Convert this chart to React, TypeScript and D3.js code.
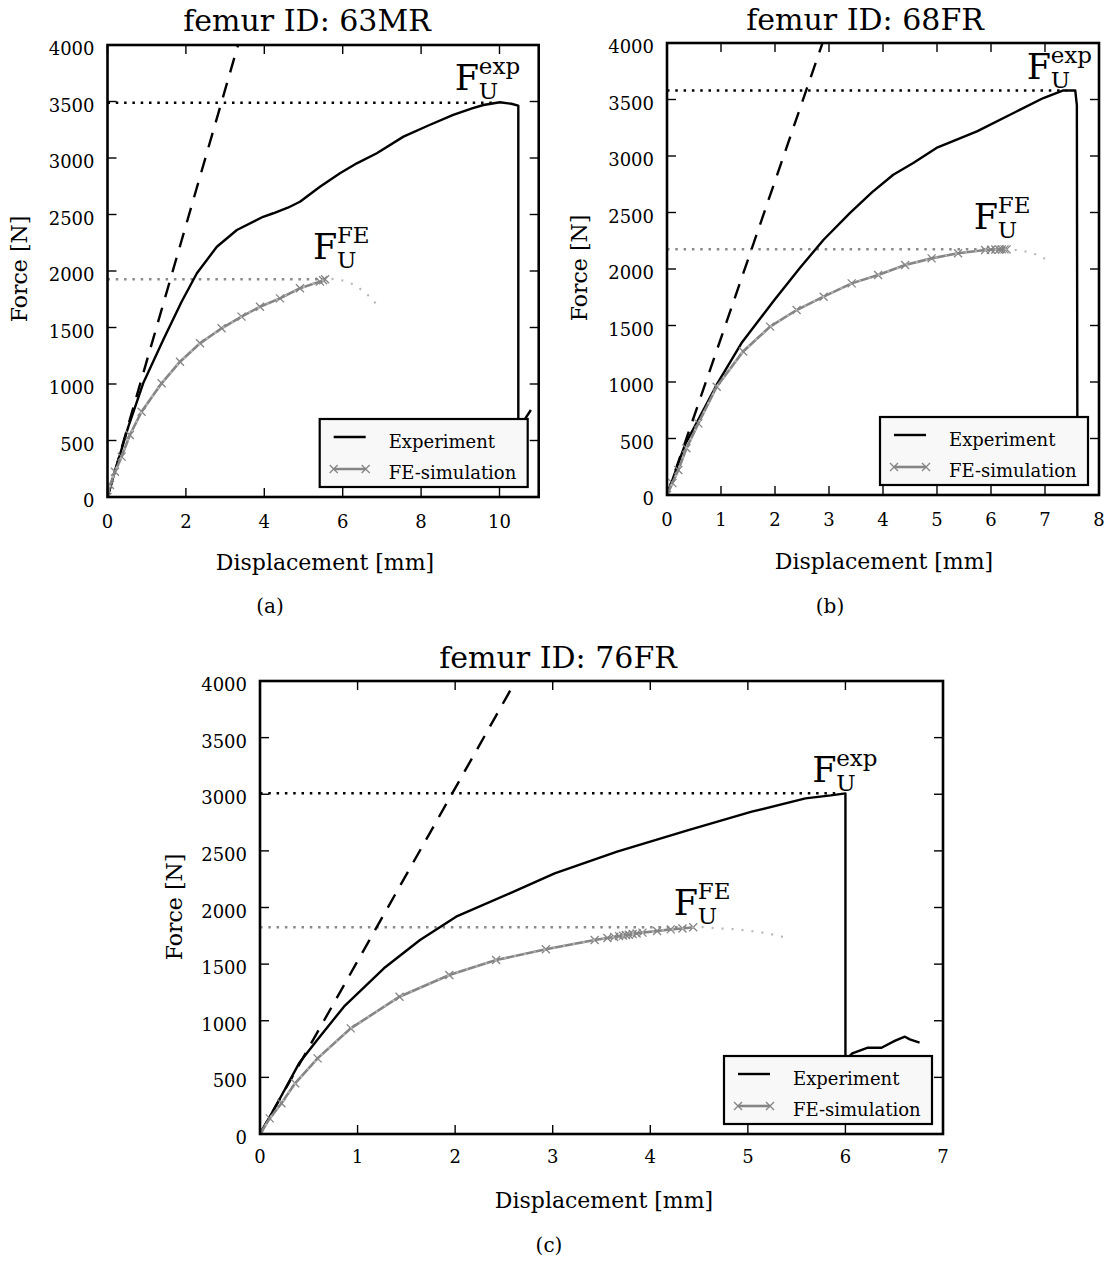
import React from 'react';
import * as d3 from 'd3';

const FONT = 'DejaVu Serif';

// shared y ticks
const yTicks = [0, 500, 1000, 1500, 2000, 2500, 3000, 3500, 4000];

// ---------- Panel (a) femur 63MR ----------
const xTicksA = [0, 2, 4, 6, 8, 10];
const expA_x = [0, 0.15, 0.53, 0.91, 1.42, 1.89, 2.28, 2.79, 3.3, 3.97, 4.23, 4.6, 4.91, 5.42, 5.93, 6.36, 6.87, 7.55, 8.2, 8.82, 9.3, 9.59, 10.01, 10.3, 10.48, 10.48, 10.8];
const expA_y = [0, 180, 620, 1006, 1389, 1728, 1980, 2215, 2363, 2480, 2511, 2560, 2613, 2746, 2865, 2953, 3042, 3189, 3290, 3381, 3440, 3469, 3493, 3480, 3463, 600, 770];
const dashA_x = [0, 3.33];
const dashA_y = [0, 4000];
const feA_x = [0, 0.064, 0.19, 0.36, 0.57, 0.87, 1.38, 1.85, 2.36, 2.91, 3.42, 3.89, 4.40, 4.91, 5.42, 5.50, 5.55];
const feA_y = [0, 106, 224, 357, 549, 755, 1006, 1197, 1360, 1493, 1596, 1684, 1758, 1847, 1906, 1918, 1927];
const feExtA_x = [5.55, 5.8, 6.02, 6.27, 6.51, 6.71, 6.89];
const feExtA_y = [1927, 1930, 1914, 1882, 1826, 1767, 1693];
const peakA = { exp: 3490, expX: 9.95, fe: 1927, feX: 5.7 };

// ---------- Panel (b) femur 68FR ----------
const xTicksB = [0, 1, 2, 3, 4, 5, 6, 7, 8];
const expB_x = [0, 0.33, 0.61, 0.92, 1.38, 1.97, 2.46, 2.90, 3.39, 3.8, 4.19, 4.56, 4.99, 5.74, 6.54, 6.97, 7.34, 7.56, 7.59, 7.6];
const expB_y = [0, 442, 694, 976, 1345, 1714, 2009, 2259, 2496, 2680, 2834, 2938, 3071, 3218, 3410, 3513, 3580, 3580, 3450, 300];
const dashB_x = [0, 2.88];
const dashB_y = [0, 4000];
const feB_x = [0, 0.1, 0.21, 0.36, 0.58, 0.92, 1.41, 1.91, 2.40, 2.90, 3.42, 3.91, 4.41, 4.90, 5.39, 5.89, 6.0, 6.08, 6.15, 6.2, 6.25, 6.29];
const feB_y = [0, 105, 221, 413, 634, 958, 1270, 1490, 1637, 1755, 1873, 1947, 2035, 2094, 2139, 2168, 2170, 2172, 2173, 2174, 2174, 2174];
const feExtB_x = [6.29, 6.45, 6.63, 6.81, 7.0];
const feExtB_y = [2174, 2168, 2156, 2133, 2090];
const peakB = { exp: 3580, expX: 7.4, fe: 2174, feX: 6.3 };

// ---------- Panel (c) femur 76FR ----------
const xTicksC = [0, 1, 2, 3, 4, 5, 6, 7];
const expC_x = [0, 0.196, 0.40, 0.586, 0.86, 1.27, 1.64, 2.01, 2.56, 3.02, 3.66, 4.39, 5.04, 5.59, 5.85, 6.0, 6.0, 6.07, 6.23, 6.37, 6.51, 6.61, 6.66, 6.76];
const expC_y = [0, 300, 624, 830, 1124, 1463, 1713, 1919, 2125, 2302, 2493, 2684, 2846, 2964, 2990, 3008, 650, 712, 762, 762, 824, 859, 836, 806];
const dashC_x = [0, 2.62];
const dashC_y = [0, 4000];
const feC_x = [0, 0.10, 0.22, 0.36, 0.59, 0.93, 1.43, 1.94, 2.42, 2.93, 3.43, 3.56, 3.63, 3.68, 3.72, 3.75, 3.78, 3.82, 3.86, 3.92, 4.07, 4.21, 4.33, 4.44];
const feC_y = [0, 138, 271, 448, 668, 933, 1212, 1404, 1536, 1631, 1713, 1730, 1740, 1747, 1752, 1757, 1760, 1766, 1771, 1778, 1793, 1807, 1815, 1825];
const feExtC_x = [4.44, 4.54, 4.68, 4.88, 5.10, 5.23, 5.33, 5.43];
const feExtC_y = [1825, 1827, 1816, 1807, 1786, 1766, 1748, 1719];
const peakC = { exp: 3008, expX: 5.9, fe: 1825, feX: 4.5 };

const zip = (a: number[], b: number[]): [number, number][] => a.map((v, i) => [v, b[i]]);

type Cfg = {
  id: string;
  left: number; right: number; top: number; bottom: number;
  xMax: number; xTicks: number[];
  title: string; titleX: number; titleY: number;
  xlabelX: number; xlabelY: number; xtickY: number;
  ylabelX: number; ylabelY: number;
  panel: string; panelX: number; panelY: number;
  annExp: [number, number]; annFE: [number, number];
};

type Data = {
  expX: number[]; expY: number[];
  dashX: number[]; dashY: number[];
  feX: number[]; feY: number[];
  extX: number[]; extY: number[];
  peak: { exp: number; expX: number; fe: number; feX: number };
};

function Ann({ x, y, sup }: { x: number; y: number; sup: string }) {
  return (
    <g fontFamily={FONT}>
      <text x={x} y={y} fontSize={35}>F</text>
      <text x={x + 24} y={y - 16} fontSize={23}>{sup}</text>
      <text x={x + 24} y={y + 9} fontSize={23}>U</text>
    </g>
  );
}

function Panel({ cfg, data }: { cfg: Cfg; data: Data }) {
  const x = d3.scaleLinear().domain([0, cfg.xMax]).range([cfg.left, cfg.right]);
  const y = d3.scaleLinear().domain([0, 4000]).range([cfg.bottom, cfg.top]);
  const line = d3.line<[number, number]>().x(d => x(d[0])).y(d => y(d[1]));
  const fe = zip(data.feX, data.feY);
  const feFull = fe.concat(zip(data.extX, data.extY).slice(1));
  const gray = '#858585';
  const tl = 9;
  const lw = 208, lh = 68;
  const lx = cfg.right - 11 - lw;
  const ly = cfg.bottom - 10 - lh;
  const mark = (cx: number, cy: number, s = 4, k?: string | number) => (
    <path key={k} d={`M${cx - s},${cy - s}L${cx + s},${cy + s}M${cx - s},${cy + s}L${cx + s},${cy - s}`} stroke={gray} strokeWidth={1.3} fill="none" />
  );
  const clipId = `clip-${cfg.id}`;
  return (
    <g>
      <defs>
        <clipPath id={clipId}>
          <rect x={cfg.left} y={cfg.top} width={cfg.right - cfg.left} height={cfg.bottom - cfg.top} />
        </clipPath>
      </defs>
      <text x={cfg.titleX} y={cfg.titleY} fontFamily={FONT} fontSize={30} textAnchor="middle">{cfg.title}</text>
      <g clipPath={`url(#${clipId})`}>
        {/* peak reference lines */}
        <line x1={x(0)} x2={x(data.peak.expX)} y1={y(data.peak.exp)} y2={y(data.peak.exp)} stroke="#000" strokeWidth={2.5} strokeDasharray="2.5 5.8" />
        <line x1={x(0)} x2={x(data.peak.feX)} y1={y(data.peak.fe)} y2={y(data.peak.fe)} stroke="#8a8a8a" strokeWidth={2.5} strokeDasharray="2.5 5.8" />
        {/* initial stiffness dashed */}
        <path d={line(zip(data.dashX, data.dashY)) || ''} stroke="#000" strokeWidth={2.4} fill="none" strokeDasharray="15 11" />
        {/* experiment */}
        <path d={line(zip(data.expX, data.expY)) || ''} stroke="#000" strokeWidth={2.4} fill="none" strokeLinejoin="round" />
        {/* FE */}
        <path d={line(fe) || ''} stroke={gray} strokeWidth={2.6} fill="none" />
        {fe.map((d, i) => mark(x(d[0]), y(d[1]), 4, i))}
        <path d={line(feFull) || ''} stroke="#b8b8b8" strokeWidth={2.2} fill="none" strokeDasharray="2 8" />
      </g>
      {/* legend */}
      <rect x={lx} y={ly} width={lw} height={lh} fill="#f8f8f8" stroke="#000" strokeWidth={2.2} />
      <line x1={lx + 14} x2={lx + 46} y1={ly + 18} y2={ly + 18} stroke="#000" strokeWidth={2.4} />
      <text x={lx + 69} y={ly + 29} fontFamily={FONT} fontSize={18}>Experiment</text>
      <line x1={lx + 14} x2={lx + 46} y1={ly + 50} y2={ly + 50} stroke={gray} strokeWidth={2.6} />
      {mark(lx + 14, ly + 50, 4, 'l1')}
      {mark(lx + 46, ly + 50, 4, 'l2')}
      <text x={lx + 69} y={ly + 60} fontFamily={FONT} fontSize={18}>FE-simulation</text>
      {/* annotations */}
      <Ann x={x(cfg.annExp[0])} y={y(cfg.annExp[1])} sup="exp" />
      <Ann x={x(cfg.annFE[0])} y={y(cfg.annFE[1])} sup="FE" />
      {/* ticks */}
      {cfg.xTicks.map(t => (
        <g key={`xt${t}`}>
          <line x1={x(t)} x2={x(t)} y1={cfg.bottom} y2={cfg.bottom - tl} stroke="#000" strokeWidth={1.4} />
          <line x1={x(t)} x2={x(t)} y1={cfg.top} y2={cfg.top + tl} stroke="#000" strokeWidth={1.4} />
          <text x={x(t)} y={cfg.xtickY} fontFamily={FONT} fontSize={18} textAnchor="middle">{t}</text>
        </g>
      ))}
      {yTicks.map(t => (
        <g key={`yt${t}`}>
          <line x1={cfg.left} x2={cfg.left + tl} y1={y(t)} y2={y(t)} stroke="#000" strokeWidth={1.4} />
          <line x1={cfg.right} x2={cfg.right - tl} y1={y(t)} y2={y(t)} stroke="#000" strokeWidth={1.4} />
          <text x={cfg.left - 13} y={y(t) + 10} fontFamily={FONT} fontSize={18} textAnchor="end">{t}</text>
        </g>
      ))}
      <rect x={cfg.left} y={cfg.top} width={cfg.right - cfg.left} height={cfg.bottom - cfg.top} fill="none" stroke="#000" strokeWidth={2.6} />
      <text x={cfg.xlabelX} y={cfg.xlabelY} fontFamily={FONT} fontSize={22} textAnchor="middle">Displacement [mm]</text>
      <text transform={`translate(${cfg.ylabelX},${cfg.ylabelY}) rotate(-90)`} fontFamily={FONT} fontSize={22} textAnchor="middle">Force [N]</text>
      <text x={cfg.panelX} y={cfg.panelY} fontFamily={FONT} fontSize={20} textAnchor="middle">{cfg.panel}</text>
    </g>
  );
}

const cfgA: Cfg = {
  id: 'a', left: 107.5, right: 538.7, top: 45, bottom: 497, xMax: 11, xTicks: xTicksA,
  title: 'femur ID: 63MR', titleX: 307, titleY: 31,
  xlabelX: 325, xlabelY: 570, xtickY: 528, ylabelX: 27, ylabelY: 269,
  panel: '(a)', panelX: 270, panelY: 613,
  annExp: [8.86, 3600], annFE: [5.24, 2110],
};
const cfgB: Cfg = {
  id: 'b', left: 667, right: 1099, top: 43, bottom: 495, xMax: 8, xTicks: xTicksB,
  title: 'femur ID: 68FR', titleX: 865, titleY: 30,
  xlabelX: 884, xlabelY: 569, xtickY: 526, ylabelX: 587, ylabelY: 268,
  panel: '(b)', panelX: 830, panelY: 613,
  annExp: [6.66, 3680], annFE: [5.68, 2350],
};
const cfgC: Cfg = {
  id: 'c', left: 260, right: 943, top: 681, bottom: 1134, xMax: 7, xTicks: xTicksC,
  title: 'femur ID: 76FR', titleX: 558, titleY: 668,
  xlabelX: 604, xlabelY: 1208, xtickY: 1163, ylabelX: 182, ylabelY: 907,
  panel: '(c)', panelX: 549, panelY: 1252,
  annExp: [5.66, 3105], annFE: [4.24, 1930],
};

const dataA: Data = { expX: expA_x, expY: expA_y, dashX: dashA_x, dashY: dashA_y, feX: feA_x, feY: feA_y, extX: feExtA_x, extY: feExtA_y, peak: peakA };
const dataB: Data = { expX: expB_x, expY: expB_y, dashX: dashB_x, dashY: dashB_y, feX: feB_x, feY: feB_y, extX: feExtB_x, extY: feExtB_y, peak: peakB };
const dataC: Data = { expX: expC_x, expY: expC_y, dashX: dashC_x, dashY: dashC_y, feX: feC_x, feY: feC_y, extX: feExtC_x, extY: feExtC_y, peak: peakC };

export default function App() {
  return (
    <svg width={1112} height={1263} style={{ position: 'absolute', left: 0, top: 0, background: '#fff' }}>
      <rect x={0} y={0} width={1112} height={1263} fill="#fff" />
      <Panel cfg={cfgA} data={dataA} />
      <Panel cfg={cfgB} data={dataB} />
      <Panel cfg={cfgC} data={dataC} />
    </svg>
  );
}
